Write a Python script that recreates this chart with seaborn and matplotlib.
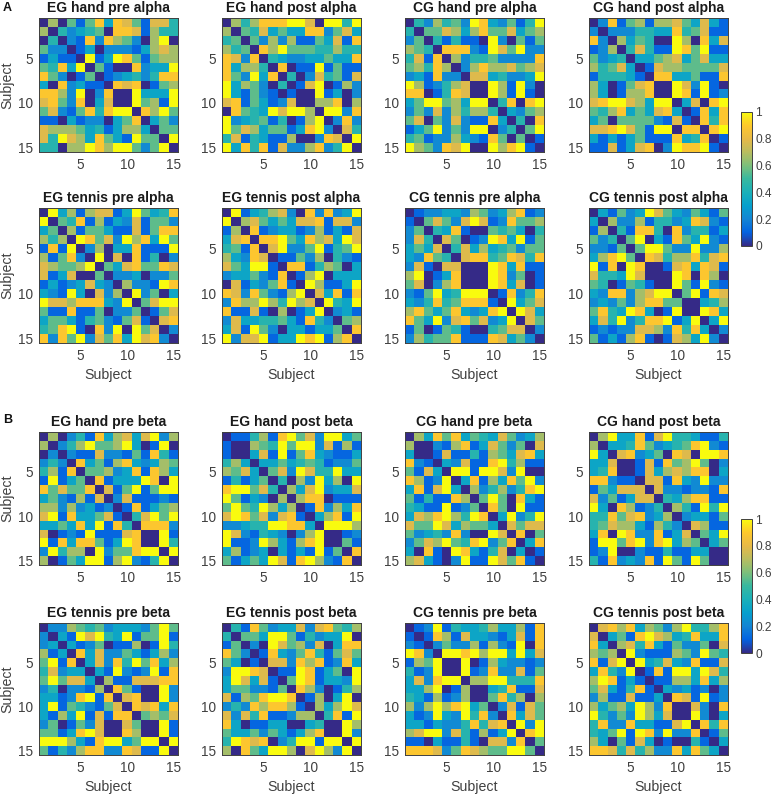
import numpy as np
import matplotlib
matplotlib.use("Agg")
import matplotlib.pyplot as plt
from matplotlib.colors import LinearSegmentedColormap
import seaborn as sns

# Upper-triangle readings, one digit per cell on a 0-9 scale (value = digit / 9)
eg_hand_pre_alpha = ["60515838751774","4234508871644","218286520690","13022213676","9139851566","510082339","12342488","8780156","093339","95619","8695","352","55","9"]
eg_hand_post_alpha = ["64688899709949","5473533882573","526261153718","86955544644","4322335338","801191511","40274517","1790162","091302","66806","9928","282","74","9"]
cg_hand_pre_alpha = ["42645298325149","5576368557356","414110920515","88821975922","6244522228","268667567","77342239","0961920","961910","48089","3256","408","59","1"]
cg_hand_post_alpha = ["28156166753731","2224433845711","635400960837","47411985911","3356735733","176655557","88335118","0972910","981912","37089","1838","848","89","1"]
eg_tennis_pre_alpha = ["93616771395348","5481613271552","615531171588","98572968395","2603381119","907081402","53785587","2230225","622198","92503","5799","157","78","2"]
eg_tennis_post_alpha = ["91346720828239","6753537781772","812331261317","88953867397","7922591459","115260421","88146503","1690333","961139","73818","9439","231","56","8"]
cg_tennis_pre_alpha = ["12233265236812","5752797128556","438100545304","75012983915","4736345255","788458748","00983811","0982501","983701","18248","9357","973","75","2"]
cg_tennis_post_alpha = ["31523975325315","6226144238721","418840824413","59031853921","5995229226","874668478","01783871","0980860","951921","59187","0346","983","39","2"]
eg_hand_pre_beta = ["60241836737926","2469556930190","211722151841","83516832365","5562381863","813339809","71591599","2711121","181356","47959","8882","091","94","9"]
eg_hand_post_beta = ["11461895729935","0654959927161","371915832113","33534541225","5729744933","406293609","63792337","6880111","182638","36819","9996","012","51","8"]
cg_hand_pre_beta = ["63858354375236","0216813752507","171141653783","32711894611","9919972900","381638592","62462489","5950831","850911","39249","7577","805","38","1"]
cg_hand_post_beta = ["69338179443114","3348523458921","782350870998","01718569502","1736768803","771832922","72212218","4368811","641949","23315","7611","539","35","0"]
eg_tennis_pre_beta = ["22654523332595","3197943915591","312501160194","83722531362","3728495836","319212918","61177788","8510092","780092","87838","5657","091","91","9"]
eg_tennis_post_beta = ["41852337278546","5539951423390","209756270388","18325841575","7728681283","119813509","59813329","8620146","160390","63697","4819","096","92","9"]
cg_tennis_pre_beta = ["12914334633618","1861733213718","252261621908","99896993937","0901632212","912822715","66994448","0348117","584606","27175","8375","929","89","5"]
cg_tennis_post_beta = ["78683652694468","3518976348338","674831522507","92111652954","9347328117","181993974","11663836","3231202","871912","07208","9203","848","15","3"]

titles = ["EG hand pre alpha", "EG hand post alpha", "CG hand pre alpha", "CG hand post alpha",
          "EG tennis pre alpha", "EG tennis post alpha", "CG tennis pre alpha", "CG tennis post alpha",
          "EG hand pre beta", "EG hand post beta", "CG hand pre beta", "CG hand post beta",
          "EG tennis pre beta", "EG tennis post beta", "CG tennis pre beta", "CG tennis post beta"]
panels = [eg_hand_pre_alpha, eg_hand_post_alpha, cg_hand_pre_alpha, cg_hand_post_alpha,
          eg_tennis_pre_alpha, eg_tennis_post_alpha, cg_tennis_pre_alpha, cg_tennis_post_alpha,
          eg_hand_pre_beta, eg_hand_post_beta, cg_hand_pre_beta, cg_hand_post_beta,
          eg_tennis_pre_beta, eg_tennis_post_beta, cg_tennis_pre_beta, cg_tennis_post_beta]
tick_labels = ["5", "10", "15"]
cbar_ticks = [0, 0.2, 0.4, 0.6, 0.8, 1]
cbar_labels = ["0", "0.2", "0.4", "0.6", "0.8", "1"]

parula = LinearSegmentedColormap.from_list("parula", [
    (0.208, 0.166, 0.529), (0.012, 0.388, 0.882), (0.078, 0.522, 0.831),
    (0.024, 0.627, 0.804), (0.102, 0.690, 0.725), (0.216, 0.722, 0.624),
    (0.486, 0.749, 0.482), (0.722, 0.741, 0.376), (0.905, 0.725, 0.278),
    (0.996, 0.784, 0.176), (0.976, 0.984, 0.055)])

sns.set_theme(style="white")
plt.rcParams["font.family"] = ["Liberation Sans", "DejaVu Sans"]
W, H = 773, 798
GREY = "#404040"
fig = plt.figure(figsize=(W / 100, H / 100), dpi=100, facecolor="white")

def box(x0, y0, x1, y1):
    return [x0 / W, 1 - y1 / H, (x1 - x0) / W, (y1 - y0) / H]

def to_matrix(rows):
    m = np.zeros((15, 15))
    for i, r in enumerate(rows):
        assert len(r) == 14 - i, (i, r)
        for k, ch in enumerate(r):
            m[i, i + 1 + k] = m[i + 1 + k, i] = int(ch) / 9
    return m

col_x = [39, 222, 405, 589]
row_y = [(18, 152), (208, 343), (432, 565), (623, 755)]
cbar_boxes = {3: (741, 112, 752, 246), 11: (741, 519, 752, 653)}

for n, (rows, title) in enumerate(zip(panels, titles)):
    r, c = divmod(n, 4)
    x0 = col_x[c]
    y0, y1 = row_y[r]
    ax = fig.add_axes(box(x0, y0, x0 + 139, y1))
    cax = fig.add_axes(box(*cbar_boxes[n])) if n in cbar_boxes else None
    sns.heatmap(to_matrix(rows), ax=ax, cmap=parula, vmin=0, vmax=1, square=False,
                cbar=cax is not None, cbar_ax=cax, xticklabels=False, yticklabels=False)
    pos = [4.5, 9.5, 14.5]
    ax.set_xticks(pos, tick_labels)
    ax.set_yticks(pos, tick_labels, rotation=0)
    ax.tick_params(axis="both", direction="out", length=0, labelsize=9.8, labelcolor=GREY, pad=4)
    for s in ax.spines.values():
        s.set_visible(True)
        s.set_color(GREY)
        s.set_linewidth(0.7)
    ax.set_title(title, fontsize=10, fontweight="bold", color="#1a1a1a", pad=4.5)
    if c == 0:
        ax.set_ylabel("Subject", fontsize=10.2, color=GREY)
        ax.yaxis.set_label_coords(-(39 - 14) / 139, 0.5)
    if r in (1, 3):
        ax.set_xlabel("Subject", fontsize=10.2, color=GREY, labelpad=4)
    if cax is not None:
        cb = ax.collections[0].colorbar
        cb.set_ticks(cbar_ticks, labels=cbar_labels)
        cb.ax.tick_params(length=0, labelsize=8.6, labelcolor=GREY, pad=2.5)
        cb.outline.set_visible(True)
        cb.outline.set_edgecolor(GREY)
        cb.outline.set_linewidth(0.7)

fig.text(3 / W, 1 - 8 / H, "A", fontsize=9, fontweight="bold", va="center", color="#111111")
fig.text(3 / W, 1 - 420 / H, "B", fontsize=9, fontweight="bold", va="center", color="#111111")
fig.savefig("out.png", dpi=100, facecolor="white")
